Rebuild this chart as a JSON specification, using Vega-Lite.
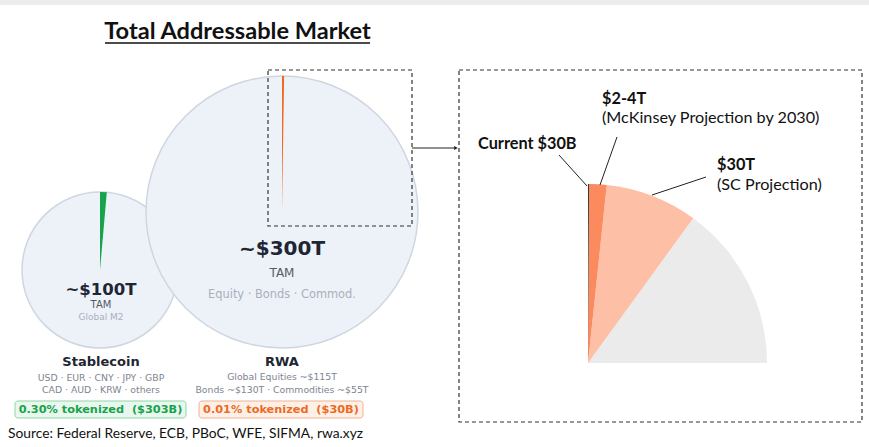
{
  "$schema": "https://vega.github.io/schema/vega-lite/v6.json",
  "width": 869,
  "height": 447,
  "padding": 0,
  "autosize": {"type": "fit", "contains": "padding"},
  "background": "white",
  "config": {"view": {"stroke": null}},
  "datasets": {
    "bands": [{"x": 0, "x2": 869, "y": 0, "y2": 5}],
    "discs": [
      {"name": "Stablecoin TAM", "x": 100, "y": 270, "r": 78, "t0": 0, "t1": 360},
      {"name": "RWA TAM", "x": 282, "y": 212, "r": 136, "t0": 0, "t1": 360}
    ],
    "wedges": [
      {"name": "Stablecoin tokenized", "part": "green", "x": 100, "y": 270, "r": 78, "t0": 0, "t1": 5},
      {"name": "RWA tokenized", "part": "orange", "x": 282, "y": 212, "r": 136, "t0": 0, "t1": 0.9},
      {"name": "Rest of RWA", "part": "rest", "x": 588, "y": 363, "r": 179, "t0": 36, "t1": 90},
      {"name": "$30T SC Projection", "part": "sc", "x": 588, "y": 363, "r": 179, "t0": 6, "t1": 36},
      {"name": "$2-4T McKinsey", "part": "mck", "x": 588, "y": 363, "r": 179, "t0": 0.35, "t1": 6},
      {"name": "Current $30B", "part": "current", "x": 588, "y": 363, "r": 179, "t0": 0, "t1": 0.35}
    ],
    "frames": [
      {"x": 268, "x2": 412, "y": 70, "y2": 226},
      {"x": 459, "x2": 862, "y": 70, "y2": 422}
    ],
    "badges": [
      {"kind": "green", "x": 15, "x2": 186, "y": 401, "y2": 418},
      {"kind": "orange", "x": 199, "x2": 363, "y": 401, "y2": 418}
    ],
    "lines": [
      {"kind": "arrow", "x": 412, "y": 148, "x2": 455, "y2": 148},
      {"kind": "leader", "x": 559, "y": 155, "x2": 587, "y2": 186},
      {"kind": "leader", "x": 617, "y": 137, "x2": 600, "y2": 185},
      {"kind": "leader", "x": 706, "y": 177, "x2": 652, "y2": 195}
    ],
    "underline": [{"x": 105, "x2": 370, "y": 43, "y2": 43}],
    "heads": [{"x": 456, "y": 148}],
    "texts": [
      {"role": "title", "x": 237.5, "y": 39, "text": "Total Addressable Market"},
      {"role": "valS", "x": 101, "y": 295, "text": "~$100T"},
      {"role": "valL", "x": 282, "y": 255, "text": "~$300T"},
      {"role": "tamS", "x": 101, "y": 308, "text": "TAM"},
      {"role": "tamL", "x": 282, "y": 277, "text": "TAM"},
      {"role": "subS", "x": 101, "y": 320, "text": "Global M2"},
      {"role": "subL", "x": 282, "y": 298, "text": "Equity · Bonds · Commod."},
      {"role": "name", "x": 101, "y": 366, "text": "Stablecoin"},
      {"role": "name", "x": 282, "y": 366, "text": "RWA"},
      {"role": "detail", "x": 101, "y": 381, "text": "USD · EUR · CNY · JPY · GBP"},
      {"role": "detail", "x": 101, "y": 393, "text": "CAD · AUD · KRW · others"},
      {"role": "detail", "x": 282, "y": 380, "text": "Global Equities ~$115T"},
      {"role": "detail", "x": 282, "y": 393, "text": "Bonds ~$130T · Commodities ~$55T"},
      {"role": "badgeG", "x": 100.5, "y": 413, "text": "0.30% tokenized \u00a0($303B)"},
      {"role": "badgeO", "x": 281, "y": 413, "text": "0.01% tokenized \u00a0($30B)"},
      {"role": "source", "x": 8, "y": 438, "text": "Source: Federal Reserve, ECB, PBoC, WFE, SIFMA, rwa.xyz"},
      {"role": "callB", "x": 478, "y": 149, "text": "Current $30B"},
      {"role": "callB", "x": 602, "y": 104, "text": "$2-4T"},
      {"role": "callR", "x": 602, "y": 123, "text": "(McKinsey Projection by 2030)"},
      {"role": "callB", "x": 717, "y": 170, "text": "$30T"},
      {"role": "callR", "x": 717, "y": 190, "text": "(SC Projection)"}
    ]
  },
  "encoding": {
    "x": {"field": "x", "type": "quantitative", "axis": null, "scale": {"domain": [0, 869], "nice": false, "zero": false}},
    "y": {"field": "y", "type": "quantitative", "axis": null, "scale": {"domain": [0, 447], "nice": false, "zero": false, "reverse": true}}
  },
  "layer": [
    {
      "data": {"name": "bands"},
      "mark": {"type": "rect", "color": "#ececec"},
      "encoding": {"x2": {"field": "x2"}, "y2": {"field": "y2"}}
    },
    {
      "data": {"name": "discs"},
      "mark": {"type": "arc", "fill": "#edf2f9", "stroke": "#cfd6e0", "strokeWidth": 1.5},
      "encoding": {
        "theta": {"field": "t0", "type": "quantitative", "stack": null, "scale": {"domain": [0, 360], "range": [0, 6.283185307179586]}},
        "theta2": {"field": "t1"},
        "radius": {"field": "r", "type": "quantitative", "scale": null}
      }
    },
    {
      "data": {"name": "wedges"},
      "mark": {"type": "arc"},
      "encoding": {
        "theta": {"field": "t0", "type": "quantitative", "stack": null, "scale": {"domain": [0, 360], "range": [0, 6.283185307179586]}},
        "theta2": {"field": "t1"},
        "radius": {"field": "r", "type": "quantitative", "scale": null},
        "color": {"field": "part", "type": "nominal", "legend": null, "scale": {"domain": ["green", "orange", "rest", "sc", "mck", "current"], "range": ["#16a34a", "#f26a21", "#ebebeb", "#fdbfa6", "#fb8a5e", "#3a3a3a"]}}
      }
    },
    {
      "data": {"name": "frames"},
      "mark": {"type": "rect", "filled": false, "stroke": "#333333", "strokeWidth": 1.2, "strokeDash": [4, 3]},
      "encoding": {"x2": {"field": "x2"}, "y2": {"field": "y2"}}
    },
    {
      "data": {"name": "badges"},
      "mark": {"type": "rect", "cornerRadius": 3, "strokeWidth": 1},
      "encoding": {
        "x2": {"field": "x2"}, "y2": {"field": "y2"},
        "fill": {"field": "kind", "type": "nominal", "legend": null, "scale": {"domain": ["green", "orange"], "range": ["#eaf7ef", "#fdf0e8"]}},
        "stroke": {"field": "kind", "type": "nominal", "legend": null, "scale": {"domain": ["green", "orange"], "range": ["#8fd5a8", "#f4b18f"]}}
      }
    },
    {
      "data": {"name": "lines"},
      "mark": {"type": "rule", "color": "#222222", "strokeWidth": 1},
      "encoding": {"x2": {"field": "x2"}, "y2": {"field": "y2"}}
    },
    {
      "data": {"name": "underline"},
      "mark": {"type": "rule", "color": "#111111", "strokeWidth": 1.6},
      "encoding": {"x2": {"field": "x2"}, "y2": {"field": "y2"}}
    },
    {
      "data": {"name": "heads"},
      "mark": {"type": "point", "shape": "triangle-right", "filled": true, "color": "#222222", "size": 18, "opacity": 1},
      "encoding": {}
    },
    {
      "data": {"name": "texts"}, "transform": [{"filter": "datum.role === 'title'"}],
      "mark": {"type": "text", "font": "Lato", "fontWeight": "bold", "fontSize": 23.6, "color": "#111111", "align": "center", "baseline": "alphabetic"},
      "encoding": {"text": {"field": "text"}}
    },
    {
      "data": {"name": "texts"}, "transform": [{"filter": "datum.role === 'valS'"}],
      "mark": {"type": "text", "font": "DejaVu Sans", "fontWeight": "bold", "fontSize": 16.5, "color": "#1e2533", "align": "center", "baseline": "alphabetic"},
      "encoding": {"text": {"field": "text"}}
    },
    {
      "data": {"name": "texts"}, "transform": [{"filter": "datum.role === 'valL'"}],
      "mark": {"type": "text", "font": "DejaVu Sans", "fontWeight": "bold", "fontSize": 20, "color": "#1e2533", "align": "center", "baseline": "alphabetic"},
      "encoding": {"text": {"field": "text"}}
    },
    {
      "data": {"name": "texts"}, "transform": [{"filter": "datum.role === 'tamS'"}],
      "mark": {"type": "text", "font": "DejaVu Sans", "fontSize": 10, "color": "#555b66", "align": "center", "baseline": "alphabetic"},
      "encoding": {"text": {"field": "text"}}
    },
    {
      "data": {"name": "texts"}, "transform": [{"filter": "datum.role === 'tamL'"}],
      "mark": {"type": "text", "font": "DejaVu Sans", "fontSize": 12, "color": "#555b66", "align": "center", "baseline": "alphabetic"},
      "encoding": {"text": {"field": "text"}}
    },
    {
      "data": {"name": "texts"}, "transform": [{"filter": "datum.role === 'subS'"}],
      "mark": {"type": "text", "font": "DejaVu Sans", "fontSize": 9, "color": "#a9b0bb", "align": "center", "baseline": "alphabetic"},
      "encoding": {"text": {"field": "text"}}
    },
    {
      "data": {"name": "texts"}, "transform": [{"filter": "datum.role === 'subL'"}],
      "mark": {"type": "text", "font": "DejaVu Sans", "fontSize": 11.4, "color": "#a9b0bb", "align": "center", "baseline": "alphabetic"},
      "encoding": {"text": {"field": "text"}}
    },
    {
      "data": {"name": "texts"}, "transform": [{"filter": "datum.role === 'name'"}],
      "mark": {"type": "text", "font": "DejaVu Sans", "fontWeight": "bold", "fontSize": 13, "color": "#1e2533", "align": "center", "baseline": "alphabetic"},
      "encoding": {"text": {"field": "text"}}
    },
    {
      "data": {"name": "texts"}, "transform": [{"filter": "datum.role === 'detail'"}],
      "mark": {"type": "text", "font": "DejaVu Sans", "fontSize": 9.3, "color": "#7d8590", "align": "center", "baseline": "alphabetic"},
      "encoding": {"text": {"field": "text"}}
    },
    {
      "data": {"name": "texts"}, "transform": [{"filter": "datum.role === 'badgeG'"}],
      "mark": {"type": "text", "font": "DejaVu Sans", "fontWeight": "bold", "fontSize": 11.3, "color": "#16a34a", "align": "center", "baseline": "alphabetic"},
      "encoding": {"text": {"field": "text"}}
    },
    {
      "data": {"name": "texts"}, "transform": [{"filter": "datum.role === 'badgeO'"}],
      "mark": {"type": "text", "font": "DejaVu Sans", "fontWeight": "bold", "fontSize": 11.3, "color": "#ee6a22", "align": "center", "baseline": "alphabetic"},
      "encoding": {"text": {"field": "text"}}
    },
    {
      "data": {"name": "texts"}, "transform": [{"filter": "datum.role === 'source'"}],
      "mark": {"type": "text", "font": "Lato", "fontSize": 13.8, "color": "#111111", "align": "left", "baseline": "alphabetic"},
      "encoding": {"text": {"field": "text"}}
    },
    {
      "data": {"name": "texts"}, "transform": [{"filter": "datum.role === 'callB'"}],
      "mark": {"type": "text", "font": "Lato", "fontWeight": "bold", "fontSize": 16.3, "color": "#111111", "align": "left", "baseline": "alphabetic"},
      "encoding": {"text": {"field": "text"}}
    },
    {
      "data": {"name": "texts"}, "transform": [{"filter": "datum.role === 'callR'"}],
      "mark": {"type": "text", "font": "Lato", "fontSize": 16.2, "color": "#111111", "align": "left", "baseline": "alphabetic"},
      "encoding": {"text": {"field": "text"}}
    }
  ]
}
